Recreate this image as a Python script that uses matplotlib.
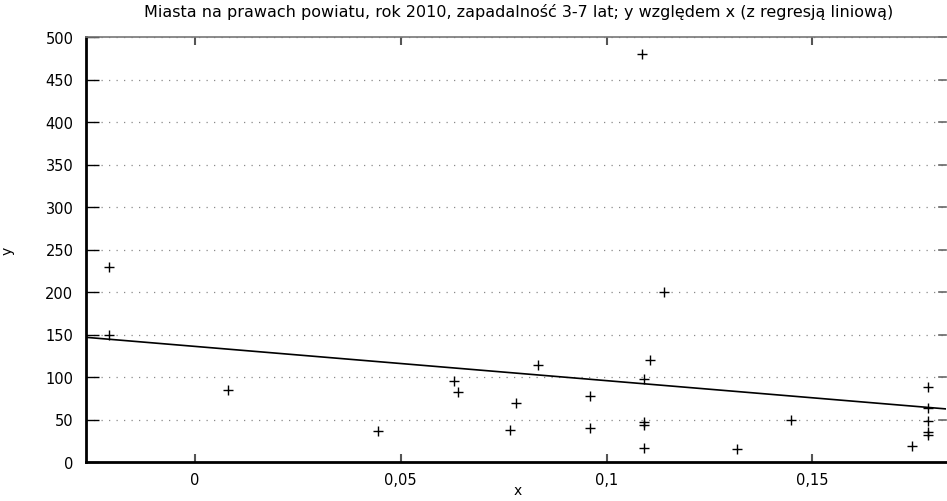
import numpy as np
import matplotlib
matplotlib.use('Agg')
import matplotlib.pyplot as plt
from matplotlib.ticker import FuncFormatter

# Points (x = incidence ratio, y = value)
x_vals = [-0.021, -0.021, 0.008, 0.0445, 0.063, 0.064, 0.0834, 0.078, 0.0766,
          0.096, 0.096, 0.109, 0.109, 0.109, 0.109, 0.1106, 0.1086, 0.114,
          0.1317, 0.1448, 0.1743, 0.1782, 0.1782, 0.1782, 0.1782, 0.1782]
y_vals = [230, 150, 85, 37, 95, 82, 114, 69, 38,
          78, 40, 98, 47, 44, 17, 120, 480, 200,
          15, 49.5, 19, 88, 63, 48.6, 35, 31.4]

# Regression line as drawn in the reference (slope, intercept)
fit_coef = [-403.0, 136.0]

x_ticks = [0, 0.05, 0.1, 0.15]
y_ticks = [0, 50, 100, 150, 200, 250, 300, 350, 400, 450, 500]
x_range = (-0.0265, 0.1825)

title = 'Miasta na prawach powiatu, rok 2010, zapadalność 3-7 lat; y względem x (z regresją liniową)'

plt.rcParams['font.family'] = ['DejaVu Sans']

fig = plt.figure(figsize=(9.47, 5.02), dpi=100)
ax = fig.add_axes([86 / 947, 39 / 502, (946 - 86) / 947, (463 - 38) / 502])

# dotted horizontal grid
for yv in y_ticks[1:]:
    ax.axhline(yv, color='#8a8a8a', lw=0.9, ls=(0, (1, 5)), zorder=1)

line_x = np.array(x_range)
ax.plot(line_x, np.polyval(fit_coef, line_x), color='black', lw=1.2, zorder=2)
ax.plot(x_vals, y_vals, ls='none', marker='+', ms=7.5, mew=1.0,
        color='black', zorder=3, clip_on=False)

ax.set_xlim(*x_range)
ax.set_ylim(0, 500)
ax.set_xticks(x_ticks)
ax.set_yticks(y_ticks)
ax.xaxis.set_major_formatter(FuncFormatter(lambda v, p: ('%g' % round(v, 3)).replace('.', ',')))

ax.tick_params(axis='y', direction='in', length=9, width=1, left=True, right=False,
               labelsize=10.5, pad=9, colors='black')
ax.tick_params(axis='x', direction='in', length=6, width=1.5, top=True, bottom=True,
               labelsize=10.5, pad=7, color='#555555')

# short grey marks on the right edge
for yv in y_ticks[1:]:
    ax.plot([0.992, 1.0], [yv, yv], color='#666666', lw=1.2,
            transform=ax.get_yaxis_transform(), clip_on=False, zorder=2)

for s in ['left', 'bottom']:
    ax.spines[s].set_linewidth(2)
    ax.spines[s].set_color('black')
ax.spines['top'].set_linewidth(1.2)
ax.spines['top'].set_color('#777777')
ax.spines['right'].set_visible(False)

ax.set_xlabel('x', fontsize=10)
ax.set_ylabel('y', fontsize=10)
ax.xaxis.set_label_coords((518 - 86) / 860, -(484 - 463) / 425)
ax.yaxis.set_label_coords((15 - 86) / 860, 0.5)

fig.text(519 / 947, 1 - 12 / 502, title, ha='center', va='center', fontsize=11.5)

fig.savefig('out.png', dpi=100)
